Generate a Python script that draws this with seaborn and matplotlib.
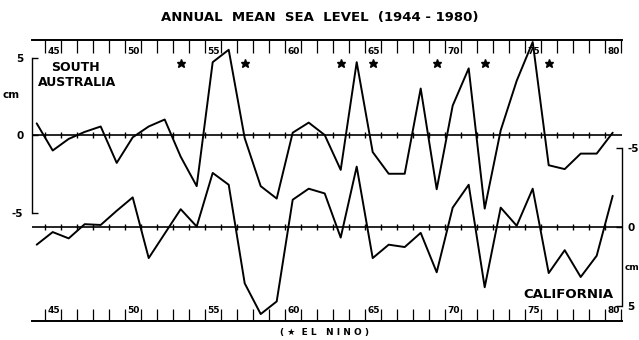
import numpy as np
import pandas as pd
import matplotlib
matplotlib.use("Agg")
import matplotlib.pyplot as plt
import matplotlib.transforms as mtransforms
import seaborn as sns

# ---- data ----
years = list(range(1944, 1981))
south_australia = [0.75, -1.0, -0.25, 0.2, 0.55, -1.8, -0.15, 0.55, 1.0, -1.4,
                   -3.3, 4.7, 5.5, -0.2, -3.3, -4.1, 0.15, 0.8, 0.0, -2.25,
                   4.7, -1.1, -2.5, -2.5, 3.0, -3.5, 1.9, 4.3, -4.75, 0.3,
                   3.5, 6.0, -1.95, -2.2, -1.2, -1.2, 0.15]
california = [1.1, 0.3, 0.7, -0.2, -0.15, -1.05, -1.9, 1.95, 0.4, -1.15,
              -0.05, -3.45, -2.7, 3.55, 5.5, 4.7, -1.75, -2.45, -2.15, 0.65,
              -3.85, 1.95, 1.1, 1.25, 0.35, 2.85, -1.25, -2.7, 3.8, -1.25,
              -0.1, -2.45, 2.9, 1.45, 3.15, 1.8, -2.0]
el_nino_years = [1953, 1957, 1963, 1965, 1969, 1972, 1976]
year_labels = ["45", "50", "55", "60", "65", "70", "75", "80"]
label_years = [1945, 1950, 1955, 1960, 1965, 1970, 1975, 1980]

df = pd.DataFrame({"year": np.array(years) + 0.5,
                   "sa": south_australia, "ca": california})

sns.set_style("white")
plt.rcParams["font.family"] = ["DejaVu Sans"]
plt.rcParams["font.weight"] = "bold"
for k in ("text.color", "axes.labelcolor", "xtick.color", "ytick.color",
          "axes.edgecolor"):
    plt.rcParams[k] = "black"

W, H = 639, 340
fig = plt.figure(figsize=(W / 100, H / 100), dpi=100)
left_px, right_px, top_px, bot_px = 31.8, 621.7, 40, 321
ax = fig.add_axes([left_px / W, 1 - bot_px / H,
                   (right_px - left_px) / W, (bot_px - top_px) / H])
ax.set_facecolor("none")
ax2 = ax.twinx()

x0 = 1944.5 - 4.9 / 16
ax.set_xlim(x0, x0 + (right_px - left_px) / 16)
ax.set_ylim(-12.0, 6.13)
ax2.set_ylim(5.94, -11.88)

lw = 1.4
sns.lineplot(data=df, x="year", y="sa", ax=ax, color="black", lw=lw)
sns.lineplot(data=df, x="year", y="ca", ax=ax2, color="black", lw=lw)

# zero lines with year crosses
for a in (ax, ax2):
    a.axhline(0, color="black", lw=1.2)
    a.plot(np.arange(1945, 1981), np.zeros(36), ls="none", marker="|",
           color="black", ms=5, mew=1.0)

# El Nino stars
ax.plot(np.array(el_nino_years) + 0.5, [4.63] * len(el_nino_years), ls="none",
        marker="*", color="black", ms=6.3)

# spines
for s in ("top", "bottom", "left", "right"):
    ax.spines[s].set_visible(s in ("top", "bottom", "left"))
    ax2.spines[s].set_visible(s == "right")
for s in ("top", "bottom"):
    ax.spines[s].set_linewidth(1.4)
ax.spines["left"].set_bounds(-5, 5)
ax.spines["left"].set_linewidth(1.0)
ax2.spines["right"].set_bounds(-5, 5)
ax2.spines["right"].set_linewidth(1.0)

ax.set_xticks(np.arange(1945, 1982))
ax.tick_params(axis="x", direction="in", length=9, width=0.9, top=True,
               bottom=True, labelbottom=False, labeltop=False)
ax.set_yticks([-5, 0, 5])
ax.set_yticklabels(["-5", "0", "5"])
ax.tick_params(axis="y", direction="in", length=4, width=1.0, pad=6,
               labelsize=7.5)
ax2.set_yticks([-5, 0, 5])
ax2.set_yticklabels(["-5", "0", "5"])
ax2.tick_params(axis="y", direction="in", length=4, width=1.0, pad=4,
                labelsize=7.5)
ax.set_xlabel("")
ax.set_ylabel("")
ax2.set_ylabel("")

# year labels inside the top and bottom axes
trans = mtransforms.blended_transform_factory(ax.transData, ax.transAxes)
for yr, lab in zip(label_years, year_labels):
    ax.text(yr + 0.18, 0.958, lab, transform=trans, fontsize=6.5,
            fontweight="bold", ha="left", va="center")
    ax.text(yr + 0.18, 0.036, lab, transform=trans, fontsize=6.5,
            fontweight="bold", ha="left", va="center")

# texts
fig.text(0.5, 1 - 17 / H, "ANNUAL  MEAN  SEA  LEVEL  (1944 - 1980)",
         ha="center", va="center", fontsize=9.5, fontweight="bold")
fig.text(75 / W, 1 - 67.5 / H, "SOUTH", ha="center", va="center",
         fontsize=9, fontweight="bold")
fig.text(77.5 / W, 1 - 82.5 / H, "AUSTRALIA", ha="center", va="center",
         fontsize=9, fontweight="bold")
fig.text(568.5 / W, 1 - 294.5 / H, "CALIFORNIA", ha="center", va="center",
         fontsize=9.5, fontweight="bold")
fig.text(11 / W, 1 - 95 / H, "cm", ha="center", va="center", fontsize=7.5,
         fontweight="bold")
fig.text(625 / W, 1 - 268 / H, "cm", ha="left", va="center", fontsize=6.5,
         fontweight="bold")
fig.text(324 / W, 1 - 332 / H, "( \u2605  E L   N I N O )", ha="center",
         va="center", fontsize=6.5, fontweight="bold")

fig.savefig("out.png", dpi=100)
